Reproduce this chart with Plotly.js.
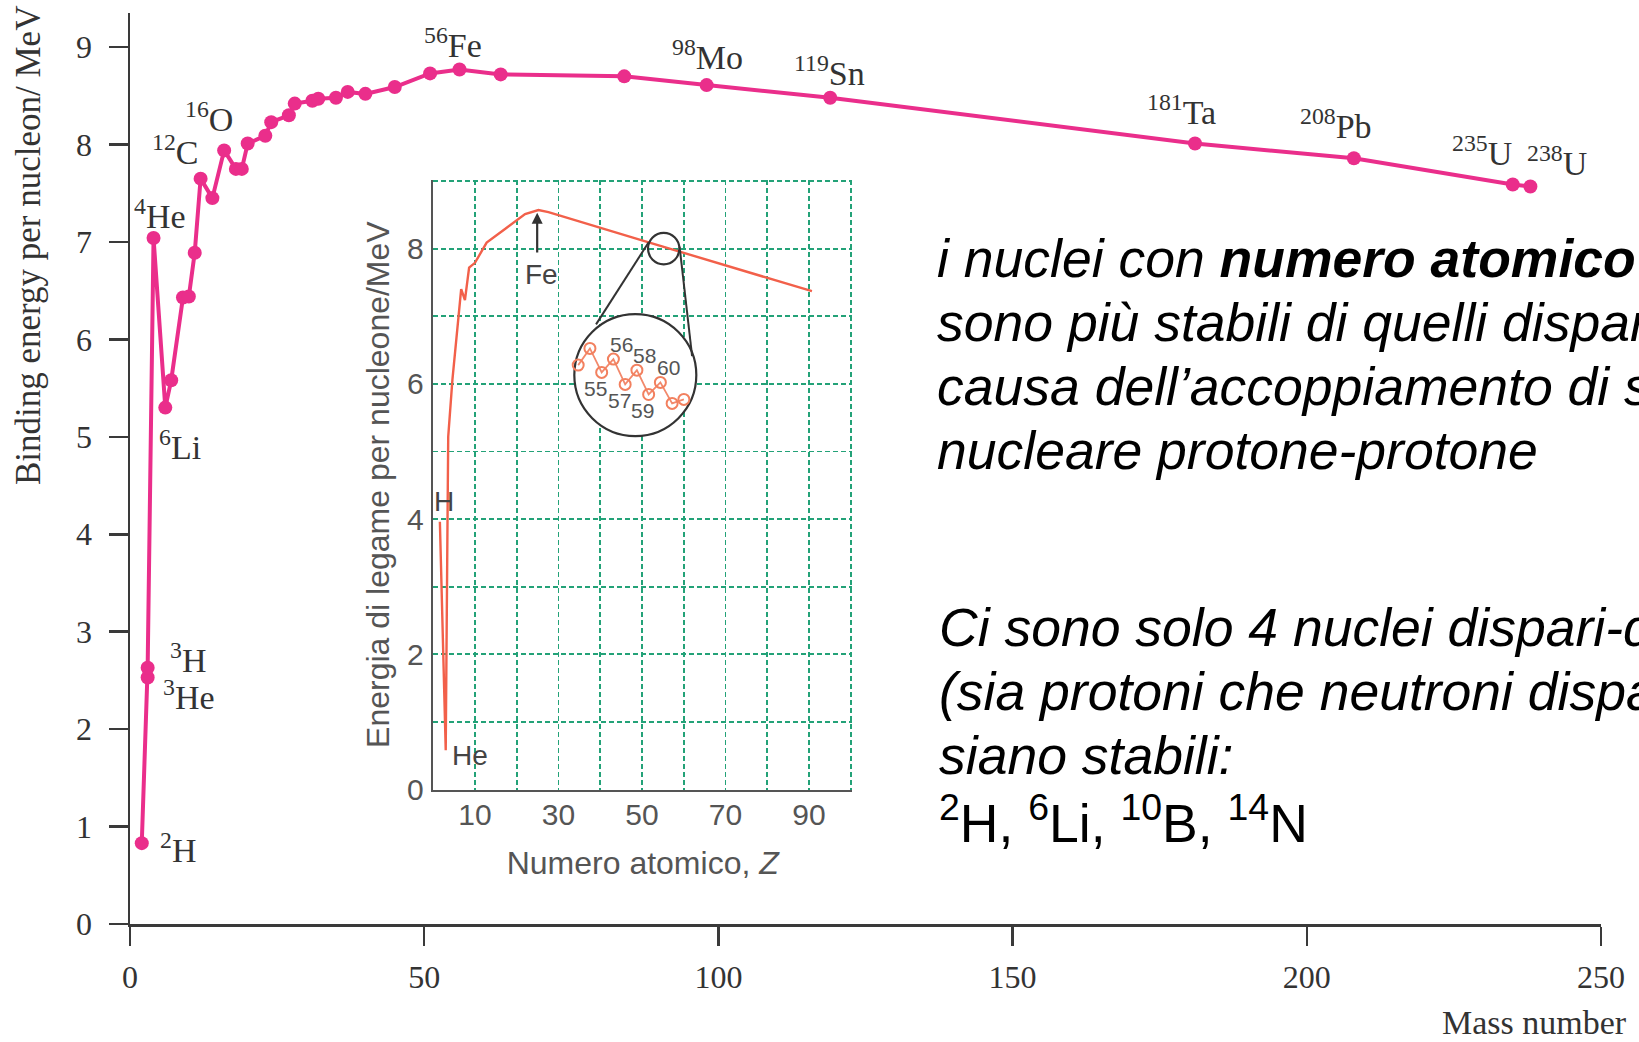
<!DOCTYPE html>
<html><head><meta charset="utf-8">
<script src="https://cdn.plot.ly/plotly-3.0.1.min.js"></script>
<style>html,body{margin:0;padding:0;background:#fff;}#chart{width:1639px;height:1042px;}</style>
</head><body><div id="chart"></div>
<script>
// ---- Main curve: mass number vs binding energy per nucleon (MeV) ----
const massNumber = [2,3,3,4,6,7,9,10,11,12,14,16,18,19,20,23,24,27,28,31,32,35,37,40,45,51,56,63,84,98,119,181,208,235,238];
const bindingEnergy = [0.83,2.53,2.63,7.04,5.30,5.58,6.43,6.44,6.89,7.65,7.45,7.94,7.75,7.75,8.01,8.09,8.23,8.30,8.42,8.45,8.47,8.48,8.54,8.52,8.59,8.73,8.77,8.72,8.70,8.61,8.48,8.01,7.86,7.59,7.57];

// labelled nuclides (mass number, symbol, binding energy)
const labelA   = [2,3,3,4,6,12,16,56,98,119,181,208,235,238];
const labelSym = ['H','H','He','He','Li','C','O','Fe','Mo','Sn','Ta','Pb','U','U'];
const labelE   = [0.83,2.63,2.53,7.04,5.30,7.65,7.94,8.77,8.61,8.48,8.01,7.86,7.59,7.57];

const xTicks = [0,50,100,150,200,250];
const yTicks = [0,1,2,3,4,5,6,7,8,9];

// ---- Inset: atomic number vs binding energy per nucleon ----
const insetZ = [1.6,3.0,3.45,3.6,4.6,6.0,6.7,7.6,8.6,10,12.8,17.2,22,25.2,27.6,51.2,90.7];
const insetE = [3.96,0.58,4.14,5.22,6.06,6.95,7.40,7.24,7.72,7.79,8.09,8.29,8.51,8.57,8.54,8.10,7.37];
const insetXTicks = [10,30,50,70,90];
const insetYTicks = [0,2,4,6,8];

// ---- Magnified detail (mass numbers 53..62, relative energy) ----
const magA = [53,54,55,56,57,58,59,60,61,62];
const magE = [6.43,8.81,5.39,7.29,3.67,5.71,2.24,3.96,0.96,1.53];
const magLabels = [55,56,57,58,59,60];

// ---- Text ----
const block1 = [
  '<i>i nuclei con <b>numero atomico</b> pari</i>',
  '<i>sono più stabili di quelli dispari a</i>',
  '<i>causa dell’accoppiamento di spin</i>',
  '<i>nucleare protone-protone</i>'
];
const block2 = [
  '<i>Ci sono solo 4 nuclei dispari-dispari</i>',
  '<i>(sia protoni che neutroni dispari)</i>',
  '<i>siano stabili:</i>',
  '<sup>2</sup>H, <sup>6</sup>Li, <sup>10</sup>B, <sup>14</sup>N'
];

// ---------------- layout helpers ----------------
const W = 1639, H = 1042;
const mL = 130, mR = 37.5, mT = 13, mB = 118.3;
const pw = W - mL - mR, ph = H - mT - mB;
const px2x = px => (px - mL) / pw;
const px2y = py => (H - mB - py) / ph;

const PINK = '#ea2e8b';
const AX = '#3a3a3a';
const SERIF = 'Liberation Serif, Times New Roman, serif';
const SANS = 'Liberation Sans, Arial, sans-serif';
const GRID = '#23a278';
const INSETGRAY = '#555555';

// label offsets (pixels) relative to their point
const labelShift = [[36,-5],[40,10],[41,-18],[6,24],[15,-37],[-26,29],[-15,33],[-7,27],[1,30],[-1,27],[-14,34],[-18,34],[-31,33],[27,25]];

const traces = [
  {x: massNumber, y: bindingEnergy, xaxis:'x', yaxis:'y', mode:'lines+markers',
   line:{color:PINK, width:4}, marker:{color:PINK, size:14}, hoverinfo:'skip'},
  {x: insetZ, y: insetE, xaxis:'x2', yaxis:'y2', mode:'lines',
   line:{color:'#f2604a', width:2.4}, hoverinfo:'skip'},
  {x: magA, y: magE, xaxis:'x3', yaxis:'y3', mode:'lines+markers',
   line:{color:'#f2896c', width:1.8},
   marker:{symbol:'circle-open', size:11, color:'#f2805f', line:{width:2}}, hoverinfo:'skip'}
];

const annotations = [];
labelA.forEach((a,i)=>{
  annotations.push({xref:'x', yref:'y', x:a, y:labelE[i], showarrow:false,
    text:'<sup>'+a+'</sup>'+labelSym[i], xshift:labelShift[i][0], yshift:labelShift[i][1],
    font:{family:SERIF, size:34, color:'#333'}});
});
annotations.push({xref:'paper', yref:'paper', x:px2x(28), y:px2y(245), xanchor:'center', yanchor:'middle',
  textangle:-90, showarrow:false,
  text:'Binding energy per nucleon/ MeV', font:{family:SERIF, size:35, color:'#333'}});
annotations.push({xref:'paper', yref:'paper', x:px2x(1535), y:px2y(1022), xanchor:'center', yanchor:'middle',
  showarrow:false, borderpad:0, text:'Mass number', font:{family:SERIF, size:34, color:'#333'}});

// inset annotations
annotations.push({xref:'x2', yref:'y2', axref:'x2', ayref:'y2', x:24.9, y:8.53, ax:24.9, ay:7.92,
  text:'', showarrow:true, arrowhead:2, arrowsize:1, arrowwidth:2.2, arrowcolor:'#333'});
annotations.push({xref:'x2', yref:'y2', x:26, y:7.62, showarrow:false, text:'Fe',
  font:{family:SANS, size:28, color:'#444'}});
annotations.push({xref:'x2', yref:'y2', x:2.7, y:4.26, showarrow:false, text:'H',
  font:{family:SANS, size:28, color:'#444'}});
annotations.push({xref:'x2', yref:'y2', x:8.8, y:0.51, showarrow:false, text:'He',
  font:{family:SANS, size:28, color:'#444'}});

// magnified labels
magLabels.forEach(a=>{
  const i = magA.indexOf(a);
  const even = a % 2 === 0;
  annotations.push({xref:'x3', yref:'y3', x:a, y:magE[i], showarrow:false, text:String(a),
    xshift: even ? 8 : -6, yshift: even ? 15 : -16,
    font:{family:SANS, size:21, color:'#555'}});
});

// Italian text
block1.forEach((t,i)=>{
  annotations.push({xref:'paper', yref:'paper', x:px2x(935), y:px2y(258 + i*64.2), xanchor:'left', yanchor:'middle',
    showarrow:false, text:t, font:{family:SANS, size:53.5, color:'#000'}});
});
block2.forEach((t,i)=>{
  annotations.push({xref:'paper', yref:'paper', x:px2x(937), y:px2y(627 + i*64.2), xanchor:'left', yanchor:'middle',
    showarrow:false, text:t, font:{family:SANS, size:53.5, color:'#000'}});
});

const shapes = [
  // big magnifier circle (white fill, above grid, below traces)
  {type:'circle', xref:'x2', yref:'y2', xsizemode:'pixel', ysizemode:'pixel',
   xanchor:48.4, yanchor:6.13, x0:-61, x1:61, y0:-61, y1:61,
   fillcolor:'#ffffff', line:{color:'#333', width:2.2}, layer:'between'},
  // small circle on the curve
  {type:'circle', xref:'x2', yref:'y2', xsizemode:'pixel', ysizemode:'pixel',
   xanchor:55.2, yanchor:8.0, x0:-15.7, x1:15.7, y0:-15.7, y1:15.7,
   line:{color:'#333', width:2.2}, layer:'above'},
  // connecting lines
  {type:'line', xref:'x2', yref:'y2', x0:51.56, y0:8.09, x1:39.0, y1:6.88, line:{color:'#333', width:2}, layer:'above'},
  {type:'line', xref:'x2', yref:'y2', x0:59.0, y0:8.03, x1:62.0, y1:6.41, line:{color:'#333', width:2}, layer:'above'}
];

const gridDash = '5px,3px';
const layout = {
  width: W, height: H,
  margin:{l:mL, r:mR, t:mT, b:mB, pad:0},
  paper_bgcolor:'#ffffff', plot_bgcolor:'rgba(0,0,0,0)',
  showlegend:false,
  xaxis:{domain:[0,1], anchor:'y', range:[0,250], tickvals:xTicks, ticks:'outside', ticklen:19, tickwidth:2.5,
    tickcolor:AX, showline:true, linecolor:AX, linewidth:2.5, showgrid:false, zeroline:false,
    tickfont:{family:SERIF, size:32, color:'#333'}, ticklabelstandoff:4},
  yaxis:{domain:[0,1], anchor:'x', range:[0,9.35], tickvals:yTicks, ticks:'outside', ticklen:19, tickwidth:2.5,
    tickcolor:AX, showline:true, linecolor:AX, linewidth:2.5, showgrid:false, zeroline:false,
    tickfont:{family:SERIF, size:32, color:'#333'}, ticklabelstandoff:10},
  xaxis2:{domain:[px2x(433.3), px2x(852.5)], anchor:'y2', range:[0,100.35], tickvals:insetXTicks, ticks:'',
    showline:true, linecolor:INSETGRAY, linewidth:2.5, zeroline:false,
    showgrid:true, gridcolor:GRID, griddash:gridDash, gridwidth:1.8,
    minor:{dtick:10, tick0:0, showgrid:true, gridcolor:GRID, griddash:gridDash, gridwidth:1.8, ticks:''},
    tickfont:{family:SANS, size:30, color:INSETGRAY}, ticklabelstandoff:-3,
    title:{text:'Numero atomico, <i>Z</i>', font:{family:SANS, size:32, color:INSETGRAY}, standoff:22}},
  yaxis2:{domain:[px2y(789.3), px2y(179.6)], anchor:'x2', range:[0,9.02], tickvals:insetYTicks, ticks:'',
    showline:true, linecolor:INSETGRAY, linewidth:2.5, zeroline:false,
    showgrid:true, gridcolor:GRID, griddash:gridDash, gridwidth:1.8,
    minor:{dtick:1, tick0:0, showgrid:true, gridcolor:GRID, griddash:gridDash, gridwidth:1.8, ticks:''},
    tickfont:{family:SANS, size:30, color:INSETGRAY}, ticklabelstandoff:1,
    title:{text:'Energia di legame per nucleone/MeV', font:{family:SANS, size:32, color:INSETGRAY}, standoff:8}},
  xaxis3:{domain:[px2x(566.6), px2x(695.8)], anchor:'y3', range:[52,63], visible:false, fixedrange:true},
  yaxis3:{domain:[px2y(410), px2y(340)], anchor:'x3', range:[0,10], visible:false, fixedrange:true},
  annotations: annotations,
  shapes: shapes
};

Plotly.newPlot('chart', traces, layout, {displayModeBar:false, staticPlot:true});
</script>
</body></html>
